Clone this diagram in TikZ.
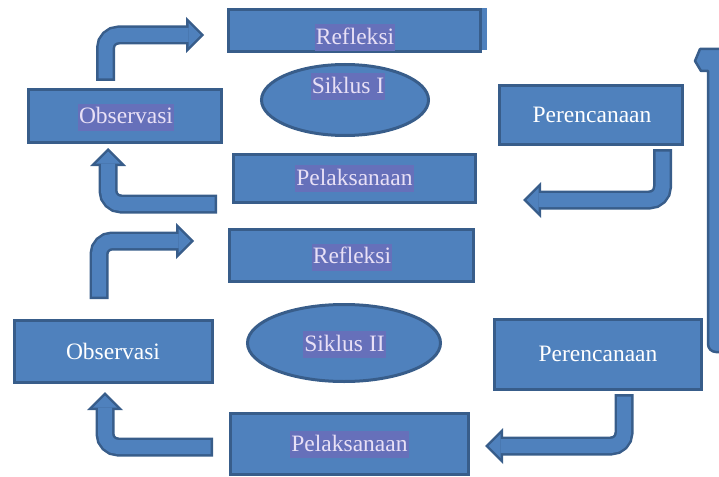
\documentclass[tikz,border=0pt]{standalone}
\usepackage{fontspec}
\setmainfont{Liberation Serif}
\usetikzlibrary{arrows.meta, shapes.geometric}
\definecolor{boxblue}{RGB}{79,129,189}
\definecolor{edgeblue}{RGB}{56,93,138}
\definecolor{markblue}{RGB}{102,112,186}
\definecolor{marktext}{RGB}{232,224,246}
\tikzset{
  stage/.style={rectangle, draw=edgeblue, fill=boxblue, line width=3pt, inner sep=0pt},
  siklus/.style={ellipse, draw=edgeblue, fill=boxblue, line width=3pt, inner sep=0pt},
  word/.style={font=\fontsize{23.5}{28}\selectfont, text height=19pt, text depth=6pt, inner xsep=1pt, inner ysep=1pt},
  marked/.style={word, fill=markblue, text=marktext},
  plain/.style={word, text=white},
  blockarrow/.style={rounded corners=13pt, draw=boxblue, line width=14pt,
    shorten <=2.5pt, shorten >=3.5pt, -{Triangle[length=12pt, width=24pt, line width=0pt]},
    preaction={draw=edgeblue, line width=19pt, shorten <=0pt, shorten >=0pt,
      -{Triangle[length=18pt, width=36pt, line width=0pt]}}}
}

\begin{document}
\begin{tikzpicture}[x=1pt, y=-1pt]
	\useasboundingbox (0,0) rectangle (719,476);
	\clip (0,0) rectangle (719,476);
	% siklus I
	\fill[boxblue] (479,8) rectangle (487,50);
	\node[stage, minimum width=252pt, minimum height=42pt] (ref1) at (354.5,30.5) {};
	\node[siklus, minimum width=167pt, minimum height=71pt] (sik1) at (345,100) {};
	\node[stage, minimum width=193pt, minimum height=53pt] (obs1) at (125,116) {};
	\node[stage, minimum width=242pt, minimum height=48pt] (pel1) at (354.5,178.5) {};
	\node[stage, minimum width=183pt, minimum height=59pt] (per1) at (591,115) {};
	\node[marked] (ref1t) at (355,38) {Refleksi};
	\node[marked] (sik1t) at (348,87) {Siklus I};
	\node[marked] (obs1t) at (126,117.5) {Observasi};
	\node[marked] (pel1t) at (354.5,178.5) {Pelaksanaan};
	\node[plain] (per1t) at (592,116) {Perencanaan};
	% siklus II
	\node[stage, minimum width=244pt, minimum height=52pt] (ref2) at (351.5,255.5) {};
	\node[siklus, minimum width=193pt, minimum height=77pt] (sik2) at (344,343) {};
	\node[stage, minimum width=198pt, minimum height=62pt] (obs2) at (113.5,351.5) {};
	\node[stage, minimum width=238pt, minimum height=61pt] (pel2) at (349.5,444) {};
	\node[stage, minimum width=207pt, minimum height=70pt] (per2) at (598,354.5) {};
	\node[marked] (ref2t) at (352,257) {Refleksi};
	\node[marked] (sik2t) at (344.5,344.5) {Siklus II};
	\node[plain] (obs2t) at (113,352.5) {Observasi};
	\node[marked] (pel2t) at (349.5,444.5) {Pelaksanaan};
	\node[plain] (per2t) at (598,354.5) {Perencanaan};
	% panah
	\coordinate (a1s) at (105.5,81);
	\coordinate (a1e) at (204,35);
	\coordinate (a2s) at (217,204);
	\coordinate (a2e) at (108,148);
	\coordinate (a3s) at (662.5,149);
	\coordinate (a3e) at (523,200);
	\coordinate (a4s) at (99,299);
	\coordinate (a4e) at (194,241);
	\coordinate (a5s) at (213,447);
	\coordinate (a5e) at (105,392);
	\coordinate (a6s) at (624,394);
	\coordinate (a6e) at (485,446);
	\draw[blockarrow] (a1s) |- (a1e);
	\draw[blockarrow] (a2s) -| (a2e);
	\draw[blockarrow] (a3s) |- (a3e);
	\draw[blockarrow] (a4s) |- (a4e);
	\draw[blockarrow] (a5s) -| (a5e);
	\draw[blockarrow] (a6s) |- (a6e);
	% panah besar kanan
	\draw[draw=edgeblue, fill=boxblue, line width=2.5pt, line join=round]
	  (730,49) -- (700,49) -- (695,61) -- (701,71) -- (708,71)
	  [rounded corners=8pt] -- (708,352) -- (730,352) -- cycle;
\end{tikzpicture}
\end{document}
